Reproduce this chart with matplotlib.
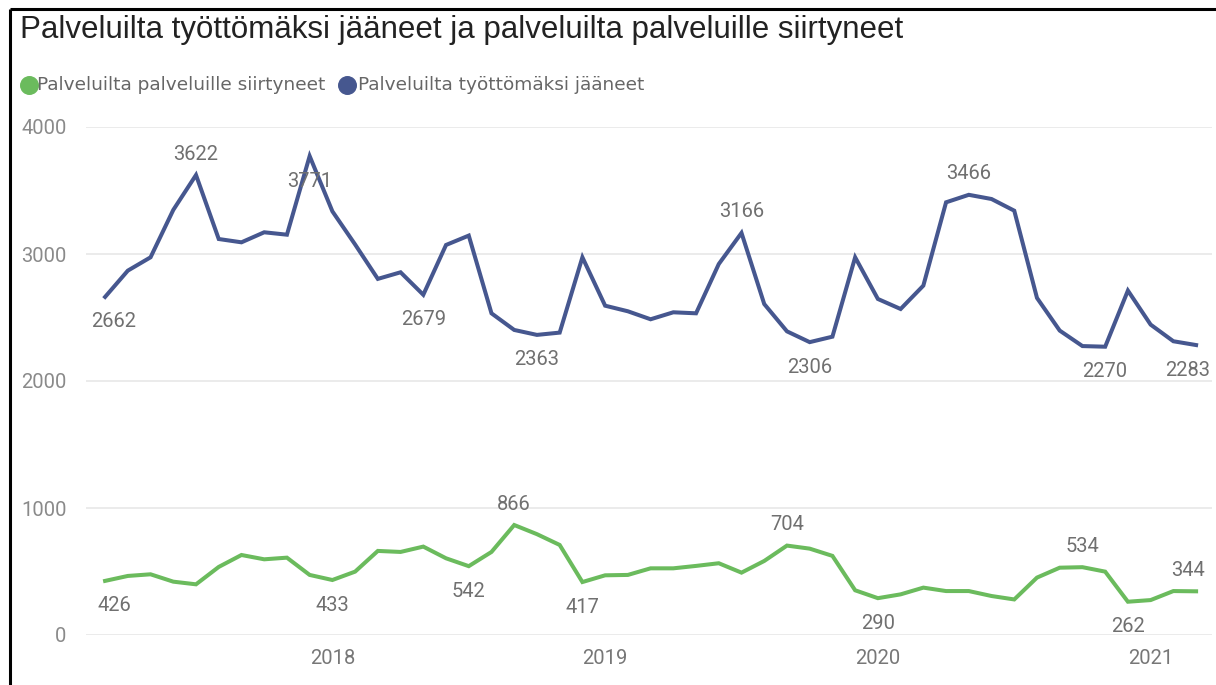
import numpy as np
import pandas as pd
import matplotlib
matplotlib.use("Agg")
import matplotlib.pyplot as plt

# monthly data, March 2017 - March 2021
months = pd.date_range("2017-03-01", "2021-03-01", freq="MS")

tyottomaksi = [2662, 2869, 2974, 3347, 3622, 3118, 3092, 3171, 3152, 3771,
               3336, 3075, 2804, 2856, 2679, 3071, 3145, 2533, 2402, 2363,
               2381, 2974, 2593, 2549, 2486, 2541, 2533, 2921, 3166, 2606,
               2391, 2306, 2349, 2974, 2646, 2567, 2751, 3407, 3466, 3433,
               3341, 2654, 2397, 2275, 2270, 2712, 2444, 2313, 2283]

siirtyneet = [426, 465, 478, 420, 399, 536, 630, 596, 609, 473,
              433, 499, 662, 654, 696, 604, 542, 654, 866, 794,
              709, 417, 470, 473, 525, 525, 544, 565, 491, 583,
              704, 680, 623, 352, 290, 320, 373, 346, 346, 307,
              280, 452, 530, 534, 499, 262, 275, 346, 344]

# which points get a data label, and on which side
blue_label_idx = [0, 4, 9, 14, 19, 28, 31, 38, 44, 48]
blue_label_pos = ["below", "above", "below", "below", "below",
                  "above", "below", "above", "below", "below"]
green_label_idx = [0, 10, 16, 18, 21, 30, 34, 43, 45, 48]
green_label_pos = ["below", "below", "below", "above", "below",
                   "above", "below", "above", "below", "above"]

y_ticks = [0, 1000, 2000, 3000, 4000]

title = "Palveluilta työttömäksi jääneet ja palveluilta palveluille siirtyneet"
legend_labels = ["Palveluilta palveluille siirtyneet", "Palveluilta työttömäksi jääneet"]

BLUE = "#46578F"
GREEN = "#6BBB5D"
GRID = "#E6E6E6"
LABEL = "#707070"

W, H = 1216, 685
fig = plt.figure(figsize=(W / 100, H / 100), dpi=100)
fig.patch.set_facecolor("white")

# overlay in pixel coordinates for the frame, title and legend
ov = fig.add_axes([0, 0, 1, 1])
ov.set_xlim(0, W)
ov.set_ylim(H, 0)
ov.axis("off")
ov.plot([10, 10], [9, H], color="black", lw=2.2, solid_capstyle="butt")
ov.plot([10, W], [9, 9], color="black", lw=2.2, solid_capstyle="butt")
ov.text(20, 38, title, fontsize=22.5, family="Liberation Sans", color="#222222",
        va="baseline", ha="left")

ov.scatter([29], [85], s=160, color=GREEN, zorder=3)
ov.text(37, 85, legend_labels[0], fontsize=13.3, family="DejaVu Sans", color="#666666",
        va="center", ha="left")
ov.scatter([347], [85], s=160, color=BLUE, zorder=3)
ov.text(358, 85, legend_labels[1], fontsize=13.3, family="DejaVu Sans", color="#666666",
        va="center", ha="left")

# main chart
x = np.arange(len(months))
left_px, right_px, top_px, bottom_px = 86, 1212, 127, 635
ax = fig.add_axes([left_px / W, 1 - bottom_px / H,
                   (right_px - left_px) / W, (bottom_px - top_px) / H])
ax.set_facecolor("none")
ax.set_xlim(-0.84, 48.7)
ax.set_ylim(0, 4000)

for s in ax.spines.values():
    s.set_visible(False)
ax.set_yticks(y_ticks)
ax.set_yticklabels([str(v) for v in y_ticks])
ax.yaxis.grid(True, color=GRID, lw=1.1)
ax.set_axisbelow(True)
ax.tick_params(axis="y", length=0, pad=14, labelsize=14.5, labelcolor="#8A8A8A")
for t in ax.get_yticklabels():
    t.set_family("Roboto")

year_pos = [i for i, m in enumerate(months) if m.month == 1]
ax.set_xticks(year_pos)
ax.set_xticklabels([str(months[i].year) for i in year_pos])
ax.tick_params(axis="x", length=0, pad=10, labelsize=14.5, labelcolor="#777777")
for t in ax.get_xticklabels():
    t.set_family("Roboto")

ax.plot(x, tyottomaksi, color=BLUE, lw=2.9, clip_on=False, solid_joinstyle="miter")
ax.plot(x, siirtyneet, color=GREEN, lw=2.9, clip_on=False, solid_joinstyle="miter")


def add_labels(values, idx, pos):
    for i, p in zip(idx, pos):
        dy = -25 if p == "below" else 21
        dx = 0
        if i == 0:
            dx = 9
        elif i == len(values) - 1:
            dx = -8
        ax.annotate(str(values[i]), (x[i], values[i]), xytext=(dx, dy),
                    textcoords="offset pixels", ha="center", va="center",
                    fontsize=14.5, family="Roboto", color=LABEL, annotation_clip=False)


add_labels(tyottomaksi, blue_label_idx, blue_label_pos)
add_labels(siirtyneet, green_label_idx, green_label_pos)

fig.savefig("out.png", dpi=100)
